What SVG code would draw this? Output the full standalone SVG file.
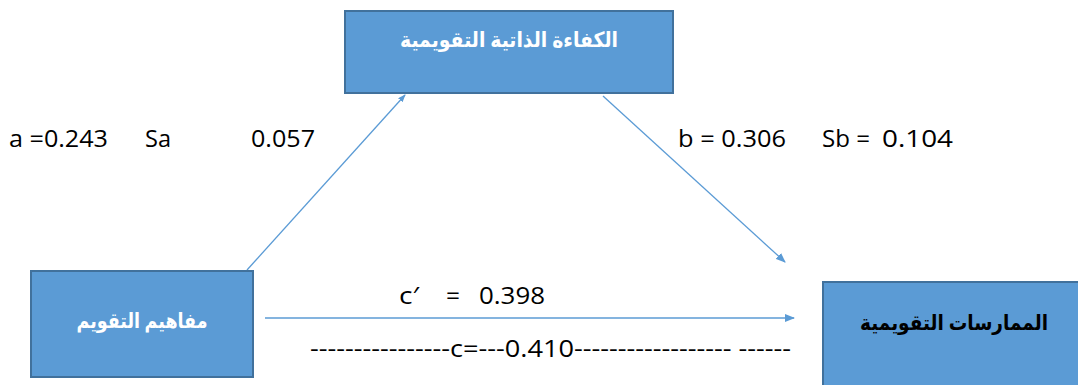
<svg xmlns="http://www.w3.org/2000/svg" width="1078" height="385" viewBox="0 0 1078 385">
<style>
.box{fill:#5B9BD5;stroke:#41719C;stroke-width:2}
.ar{font-family:"Noto Sans","DejaVu Sans",sans-serif;font-weight:bold;font-size:21px;text-anchor:middle}
.lbl{font-family:"Open Sans","Noto Sans",sans-serif;font-size:24px;fill:#000}
.ln{stroke:#5B9BD5;stroke-width:1.3;fill:none}
</style>
<defs>
<marker id="ah" markerWidth="10" markerHeight="8" refX="9" refY="4" orient="auto" markerUnits="userSpaceOnUse">
<path d="M0,0 L10,4 L0,8 Z" fill="#5B9BD5"/>
</marker>
<marker id="ahs" markerWidth="8" markerHeight="6" refX="7" refY="3" orient="auto" markerUnits="userSpaceOnUse">
<path d="M0,0 L8,3 L0,6 Z" fill="#5B9BD5"/>
</marker>
</defs>
<g id="connectors">
<line class="ln" x1="247" y1="270" x2="405" y2="95" marker-end="url(#ahs)"/>
<line class="ln" x1="603" y1="96" x2="785" y2="262" marker-end="url(#ah)"/>
<line class="ln" x1="265" y1="318" x2="794" y2="318" marker-end="url(#ah)"/>
</g>
<g id="node-mediator">
<rect class="box" x="345" y="11" width="328" height="82"/>
<text class="ar" x="509" y="47" fill="#FFFFFF" direction="rtl" textLength="218" lengthAdjust="spacingAndGlyphs">الكفاءة الذاتية التقويمية</text>
</g>
<g id="node-x">
<rect class="box" x="31" y="271" width="222" height="106"/>
<text class="ar" x="142" y="328" fill="#FFFFFF" direction="rtl" textLength="131" lengthAdjust="spacingAndGlyphs">مفاهيم التقويم</text>
</g>
<g id="node-y">
<rect class="box" x="823" y="282" width="260" height="110"/>
<text class="ar" x="954" y="330" fill="#000000" direction="rtl" textLength="188" lengthAdjust="spacingAndGlyphs">الممارسات التقويمية</text>
</g>
<g id="labels">
<text class="lbl" x="9" y="147" textLength="99" lengthAdjust="spacingAndGlyphs">a =0.243</text>
<text class="lbl" x="145" y="147" textLength="26" lengthAdjust="spacingAndGlyphs">Sa</text>
<text class="lbl" x="251" y="147" textLength="64" lengthAdjust="spacingAndGlyphs">0.057</text>
<text class="lbl" x="678" y="147" textLength="108" lengthAdjust="spacingAndGlyphs">b = 0.306</text>
<text class="lbl" x="822" y="147" textLength="48" lengthAdjust="spacingAndGlyphs">Sb =</text>
<text class="lbl" x="882" y="147" textLength="71" lengthAdjust="spacingAndGlyphs">0.104</text>
<text class="lbl" x="399" y="304" textLength="20" lengthAdjust="spacingAndGlyphs">c′</text>
<text class="lbl" x="446" y="304" textLength="14" lengthAdjust="spacingAndGlyphs">=</text>
<text class="lbl" x="479" y="304" textLength="66" lengthAdjust="spacingAndGlyphs">0.398</text>
<text class="lbl" x="310" y="357" textLength="481" lengthAdjust="spacingAndGlyphs">----------------c=---0.410------------------ ------</text>
</g>
</svg>
